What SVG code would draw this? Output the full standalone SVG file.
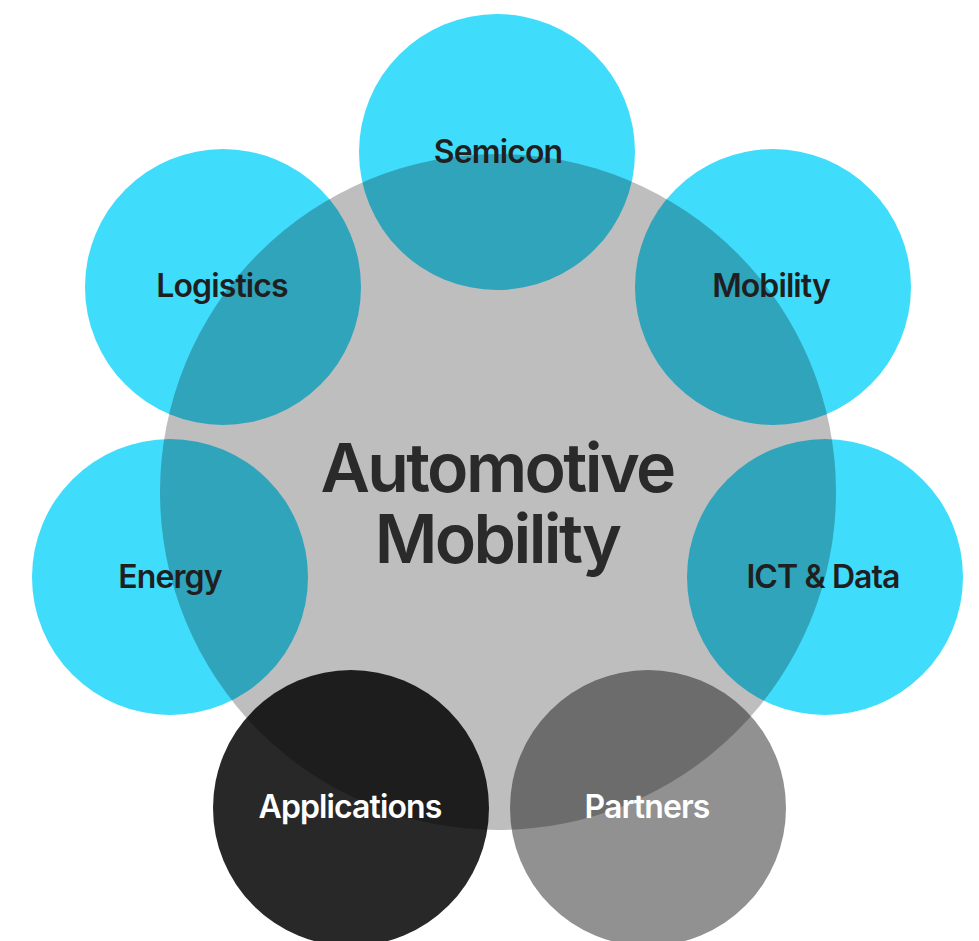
<svg xmlns="http://www.w3.org/2000/svg" width="979" height="941" viewBox="0 0 979 941">
<style>
.sat{fill:#40DCFB}
.lbl{font-family:Inter,"Liberation Sans",sans-serif;font-size:32px;font-weight:600;fill:#1f1f1f;text-anchor:middle;letter-spacing:-0.9px}
.wht{fill:#ffffff}
.hub{font-family:Inter,"Liberation Sans",sans-serif;font-size:68px;font-weight:600;fill:#2a2a2a;text-anchor:middle;letter-spacing:-2.6px}
</style>
<rect width="979" height="941" fill="#ffffff"/>
<g id="nodes-shapes">
<circle id="c-semicon" class="sat" cx="497" cy="152" r="138"/>
<circle id="c-mobility" class="sat" cx="773" cy="287" r="138"/>
<circle id="c-logistics" class="sat" cx="223" cy="287" r="138"/>
<circle id="c-ict" class="sat" cx="825" cy="577" r="138"/>
<circle id="c-energy" class="sat" cx="170" cy="577" r="138"/>
<circle id="c-applications" cx="351" cy="808" r="138" fill="#282828"/>
<circle id="c-partners" cx="648" cy="808" r="138" fill="#919191"/>
</g>
<g id="hub">
<circle cx="498" cy="492" r="338" fill="#000000" fill-opacity="0.255"/>
<text class="hub" x="497" y="492">Automotive</text>
<text class="hub" x="497" y="563">Mobility</text>
</g>
<g id="semicon"><text class="lbl" x="498" y="163">Semicon</text></g>
<g id="logistics"><text class="lbl" x="222" y="297">Logistics</text></g>
<g id="mobility"><text class="lbl" x="771" y="297">Mobility</text></g>
<g id="ict-data"><text class="lbl" x="823" y="588">ICT &amp; Data</text></g>
<g id="energy"><text class="lbl" x="170" y="588">Energy</text></g>
<g id="applications"><text class="lbl wht" x="350" y="818">Applications</text></g>
<g id="partners"><text class="lbl wht" x="647" y="818">Partners</text></g>
<g id="connectors"></g>
</svg>
